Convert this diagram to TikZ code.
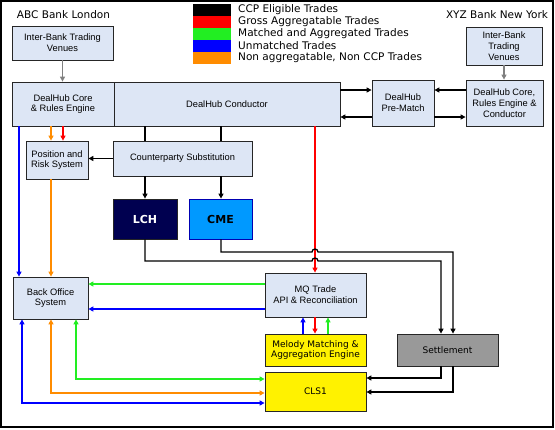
\documentclass[tikz,border=0pt]{standalone}
\usepackage{fontspec}
\setmainfont{Liberation Sans}
\newfontfamily\verd{DejaVu Sans}
\usetikzlibrary{arrows.meta}
\definecolor{boxblue}{HTML}{DDE6F5}
\definecolor{lgreen}{HTML}{22EE22}
\definecolor{lorange}{HTML}{FF8C00}
\definecolor{navy}{HTML}{000050}
\definecolor{cmeblue}{HTML}{0099FF}
\definecolor{settgrey}{HTML}{999999}
\begin{document}
\begin{tikzpicture}[x=1pt,y=-1pt,
	box/.style={draw=black!85,line width=.8pt,fill=boxblue,align=center,inner sep=1pt,font=\fontsize{9.3}{10.8}\selectfont},
	vbox/.style={box,font=\verd\fontsize{9}{10.5}\selectfont},
	legend/.style={inner sep=0pt,font=\verd\fontsize{10.5}{12}\selectfont},
	wire/.style={line width=1.3pt,-{Triangle[length=5pt,width=5pt]}},
	both/.style={line width=1.3pt,{Triangle[length=5pt,width=5pt]}-{Triangle[length=5pt,width=5pt]}},
	link/.style={line width=1.3pt}]
		\useasboundingbox(0,0)rectangle(555,429);
		\draw[line width=1.2pt](1,1)rectangle(553,427);
		% legend
		\foreach \c/\t [count=\i] in {black/CCP Eligible Trades,red/Gross Aggregatable Trades,lgreen/Matched and Aggregated Trades,blue/Unmatched Trades,lorange/{Non aggregatable, Non CCP Trades}}{
			\node[fill=\c,minimum width=38,minimum height=12,inner sep=0](sw\i)at(212,-2+12*\i){};
			\node[legend,anchor=west](lt\i)at(238,-2+12*\i){\t};
		}
		\node[legend](abc)at(63.5,15){ABC Bank London};
		\node[legend](xyz)at(497,15){XYZ Bank New York};
		% boxes
		\node[box,minimum width=101,minimum height=34](ibl)at(62.5,43){Inter-Bank Trading\\Venues};
		\node[box,minimum width=76,minimum height=38](ibr)at(504,46){Inter-Bank\\Trading\\Venues};
		\node[box,minimum width=102,minimum height=44](core)at(63,104){DealHub Core\\\& Rules Engine};
		\node[box,minimum width=226,minimum height=44](cond)at(227,104){DealHub Conductor};
		\node[box,minimum width=62,minimum height=46](pre)at(403,103){DealHub\\Pre-Match};
		\node[box,minimum width=77,minimum height=46](rcore)at(504.5,103){DealHub Core,\\Rules Engine \&\\Conductor};
		\node[box,minimum width=62,minimum height=38](pr)at(57,160){Position and\\Risk System};
		\node[box,minimum width=139,minimum height=35](cs)at(182.5,158.5){Counterparty Substitution};
		\node[box,fill=navy,text=white,minimum width=64,minimum height=40,font=\verd\bfseries\fontsize{11}{13}\selectfont](lch)at(145,219){LCH};
		\node[box,fill=cmeblue,draw=blue!70!black,minimum width=63,minimum height=40,font=\verd\bfseries\fontsize{11}{13}\selectfont](cme)at(220.5,219){CME};
		\node[box,minimum width=75,minimum height=42](bo)at(50.5,298){Back Office\\System};
		\node[box,minimum width=101,minimum height=44](mq)at(315.5,295){MQ Trade\\API \& Reconciliation};
		\node[vbox,fill=yellow,minimum width=101,minimum height=32](mel)at(315.5,350){Melody Matching \&\\Aggregation Engine};
		\node[vbox,fill=yellow,minimum width=101,minimum height=39](cls)at(315.5,391.5){CLS1};
		\node[vbox,fill=settgrey,minimum width=101,minimum height=32](set)at(447.5,350){Settlement};
		% connectors
		\draw[wire,gray](ibl.south)--(ibl.south|-core.north);
		\draw[wire,gray](ibr.south)--(ibr.south|-rcore.north);
		\draw[wire](cond.east|-0,90)--(pre.west|-0,90);
		\draw[wire](pre.west|-0,117)--(cond.east|-0,117);
		\draw[wire](rcore.west|-0,90)--(pre.east|-0,90);
		\draw[wire](pre.east|-0,117)--(rcore.west|-0,117);
		\draw[link](145,0|-cond.south)--(145,0|-cs.north) (221,0|-cond.south)--(221,0|-cs.north);
		\draw[wire](cs.west)--(pr.east|-cs.west);
		\draw[wire](145,0|-cs.south)--(lch.north);
		\draw[wire](221,0|-cs.south)--(221,0|-cme.north);
		\draw[wire,red](315,0|-cond.south)--(315,0|-mq.north);
		\draw[wire](lch.south)--(145,261)--(312,261)arc[start angle=180,end angle=360,radius=3]--(441,261)--(441,0|-set.north);
		\draw[wire](221,0|-cme.south)--(221,252)--(312,252)arc[start angle=180,end angle=360,radius=3]--(453,252)--(453,0|-set.north);
		\draw[wire,lorange](51,0|-core.south)--(51,0|-pr.north);
		\draw[wire,red](63,0|-core.south)--(63,0|-pr.north);
		\draw[wire,blue](19,0|-core.south)--(19,0|-bo.north);
		\draw[wire,lorange](51,0|-pr.south)--(51,0|-bo.north);
		\draw[wire,lgreen](mq.west|-0,284)--(bo.east|-0,284);
		\draw[wire,blue](mq.west|-0,309)--(bo.east|-0,309);
		\draw[wire,blue](303,0|-mel.north)--(303,0|-mq.south);
		\draw[wire,red](315,0|-mq.south)--(315,0|-mel.north);
		\draw[wire,lgreen](328,0|-mel.north)--(328,0|-mq.south);
		\draw[wire](441,0|-set.south)--(441,378)--(cls.east|-0,378);
		\draw[wire](453,0|-set.south)--(453,392)--(cls.east|-0,392);
		\draw[both,lgreen](76,0|-bo.south)--(76,379)--(cls.west|-0,379);
		\draw[both,lorange](51,0|-bo.south)--(51,393)--(cls.west|-0,393);
		\draw[both,blue](22,0|-bo.south)--(22,403)--(cls.west|-0,403);
	\end{tikzpicture}
\end{document}
